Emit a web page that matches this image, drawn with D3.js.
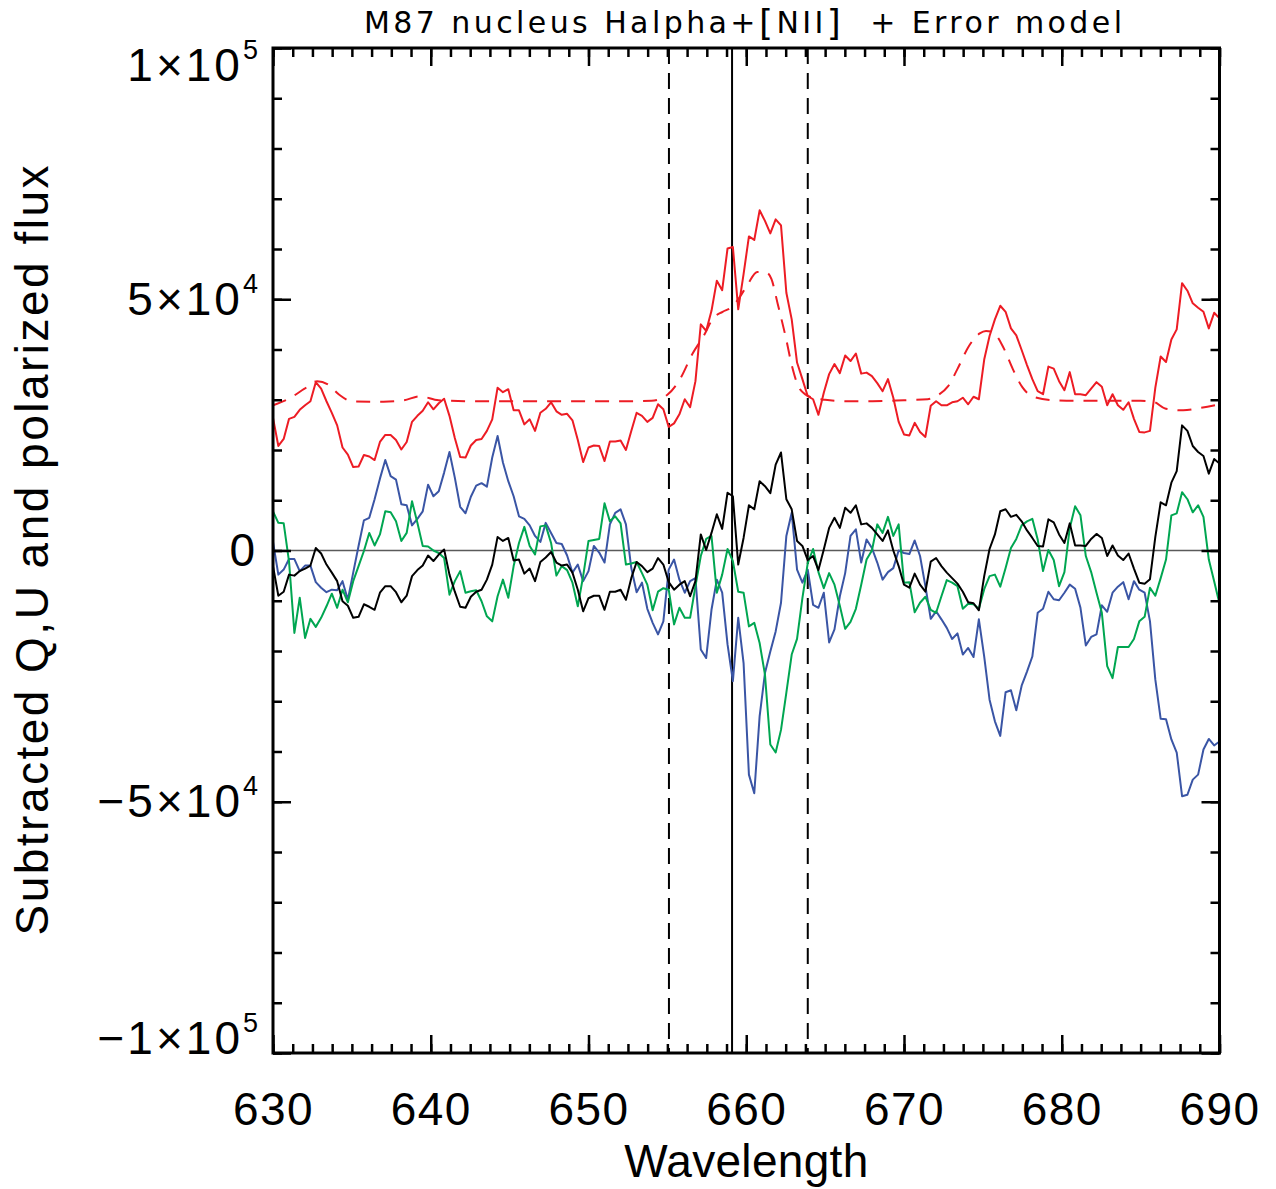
<!DOCTYPE html>
<html>
<head>
<meta charset="utf-8">
<script src="https://cdn.jsdelivr.net/npm/d3@7"></script>
<style>
  body { margin: 0; background: #fff; }
  svg { display: block; font-family: "Liberation Sans", Arial, sans-serif; }
</style>
</head>
<body>
<div id="chart"></div>
<script>
// spectrum sampled on a regular grid, 630 -> 690 nm
const nSamples = 178;
const wavelength = d3.range(nSamples).map(i => 630 + i * 60 / (nSamples - 1));

// values in units of 1e4
const polFlux = [2.64, 2.08, 2.22, 2.62, 2.66, 2.80, 2.89, 2.97, 3.35, 3.22,
  2.97, 2.74, 2.49, 2.05, 1.91, 1.66, 1.67, 1.90, 1.87, 1.80,
  2.16, 2.30, 2.30, 2.20, 2.01, 2.16, 2.56, 2.68, 2.78, 2.95,
  2.81, 2.93, 3.02, 2.68, 2.24, 1.86, 1.85, 2.09, 2.20, 2.22,
  2.38, 2.61, 3.24, 3.15, 3.21, 2.79, 2.79, 2.51, 2.61, 2.38,
  2.74, 2.82, 2.95, 2.77, 2.70, 2.72, 2.59, 2.20,
  1.76, 2.05, 2.09, 2.08, 1.78, 2.17, 2.17, 2.19, 2.00, 2.38,
  2.74, 2.68, 2.56, 2.64, 2.91, 2.81, 2.46, 2.53, 2.71, 3.01,
  2.85, 3.37, 4.50, 4.37, 4.77, 5.37, 5.18, 6.01, 6.04, 4.80,
  5.50, 6.25, 6.18, 6.77, 6.56, 6.31, 6.59, 6.47, 5.13, 4.60,
  3.74, 3.41, 3.07, 3.01, 2.70, 3.14, 3.51, 3.71, 3.53, 3.88,
  3.77, 3.92, 3.52, 3.54, 3.47, 3.33, 3.17, 3.41, 3.04, 2.56,
  2.31, 2.29,
  2.54, 2.36, 2.26, 2.88, 2.97, 2.89, 2.89, 2.95, 2.97, 3.04,
  2.91, 3.06, 3.01, 3.80, 4.27, 4.60, 4.87, 4.75, 4.42, 4.28,
  3.99, 3.69, 3.41, 3.17, 3.11, 3.66, 3.62, 3.37, 3.19, 3.55,
  3.11, 3.11, 3.09, 3.22, 3.35, 3.26, 2.89, 3.11, 2.89, 2.80,
  2.95, 2.62, 2.36, 2.35, 2.38, 3.24, 3.86, 3.75, 4.20, 4.40,
  5.32, 5.17, 4.92, 4.83, 4.75, 4.42, 4.73, 4.62];

const stokesQ = [0.17, -0.48, -0.38, -0.17, -0.17, -0.41, -0.30, -0.30, -0.63, -0.74,
  -0.83, -0.78, -0.79, -0.61, -0.98, -0.44, 0.09, 0.60, 0.65, 1.02,
  1.43, 1.80, 1.48, 1.41, 0.92, 0.90, 0.50, 0.63, 0.78, 1.31,
  1.08, 1.18, 1.55, 1.96, 1.45, 0.87, 0.74, 1.07, 1.29, 1.34,
  1.27, 1.85, 2.28, 1.75, 1.38, 1.08, 0.68, 0.63, 0.50, 0.29,
  0.17, 0.55, 0.35, 0.15, 0.13, -0.10, -0.44, -0.28,
  -0.61, -0.41, 0.09, -0.04, -0.24, 0.52, 0.75, 0.82, 0.52, -0.35,
  -0.83, -0.64, -1.16, -1.44, -1.67, -1.41, -0.38, -0.18, -0.58, -0.84,
  -0.61, -0.55, -1.97, -2.14, -1.18, -0.58, -0.84, -1.87, -2.60, -1.34,
  -2.24, -4.46, -4.83, -3.30, -2.44, -2.01, -1.61, -1.04, 0.29, 0.75,
  -0.38, -0.64, -0.38, -1.08, -1.14, -0.84, -1.83, -1.57, -0.91, -0.45,
  0.29, 0.42, -0.24, 0.22, 0.05, -0.24, -0.58, -0.43, -0.35, 0.00,
  -0.05, -0.07,
  0.20, -0.11, -0.71, -1.36, -1.21, -1.37, -1.54, -1.76, -1.65, -2.07,
  -1.94, -2.12, -1.37, -2.11, -2.97, -3.40, -3.69, -2.82, -2.78, -3.18,
  -2.69, -2.41, -2.11, -1.24, -1.16, -0.82, -0.97, -0.99, -0.84, -0.68,
  -0.76, -1.14, -1.89, -1.72, -1.67, -1.09, -1.22, -0.84, -0.72, -0.63,
  -0.97, -0.61, -0.78, -0.84, -1.41, -2.57, -3.35, -3.36, -3.76, -4.02,
  -4.89, -4.86, -4.56, -4.46, -3.96, -3.75, -3.88, -3.80];

const stokesU = [0.78, 0.55, 0.54, -0.22, -1.64, -0.94, -1.74, -1.36, -1.52, -1.34,
  -1.11, -0.86, -1.14, -0.78, -1.03, -0.61, -0.31, -0.01, 0.35, 0.10,
  0.32, 0.78, 0.76, 0.58, 0.19, 0.35, 0.98, 0.55, 0.09, 0.08,
  0.00, -0.05, -0.15, -0.88, -0.61, -0.41, -0.84, -0.81, -0.79, -1.01,
  -1.31, -1.41, -0.91, -0.58, -0.94, -0.31, 0.15, 0.47, 0.09, -0.08,
  0.48, 0.50, 0.15, -0.50, -0.31, -0.39, -0.64, -1.11,
  -0.51, 0.19, 0.21, 0.23, 0.94, 0.58, 0.68, 0.54, -0.28, -0.26,
  -0.23, -0.45, -0.68, -1.19, -0.82, -0.75, -0.78, -1.47, -1.14, -1.34,
  -1.34, -0.71, -0.11, 0.23, 0.29, -0.84, -0.48, 0.03, -0.21, -0.82,
  -0.84, -1.51, -1.44, -1.84, -2.47, -3.86, -4.02, -3.57, -2.83, -2.07,
  -1.76, -0.95, -0.25, 0.03, -0.43, -0.75, -0.45, -0.68, -1.10, -1.56,
  -1.42, -1.16, -0.68, -0.18, 0.00, 0.52, 0.35, 0.67, 0.29, 0.52,
  -0.64, -0.63,
  -1.23, -1.04, -0.92, -1.18, -1.24, -0.91, -0.59, -0.64, -0.71, -1.16,
  -1.06, -1.07, -1.16, -0.77, -0.51, -0.48, -0.72, -0.35, 0.05, 0.23,
  0.50, 0.58, 0.63, 0.22, -0.41, 0.01, -0.19, -0.71, -0.43, 0.45,
  0.88, 0.70, -0.11, -0.43, -0.84, -1.24, -2.30, -2.54, -1.92, -1.92,
  -1.92, -1.76, -1.41, -1.32, -0.74, -0.90, -0.55, -0.18, 0.70, 0.74,
  1.16, 1.02, 0.76, 0.90, 0.67, -0.18, -0.61, -1.06];

const polResidual = [-0.31, -0.90, -0.82, -0.48, -0.50, -0.41, -0.36, -0.30, 0.05, -0.06,
  -0.28, -0.44, -0.61, -1.01, -1.10, -1.34, -1.32, -1.07, -1.12, -1.18,
  -0.84, -0.71, -0.71, -0.83, -1.03, -0.90, -0.51, -0.39, -0.30, -0.10,
  -0.21, -0.08, 0.02, -0.48, -0.82, -1.12, -1.14, -0.92, -0.82, -0.78,
  -0.58, -0.28, 0.27, 0.19, 0.25, -0.20, -0.18, -0.46, -0.36, -0.61,
  -0.23, -0.14, -0.03, -0.24, -0.30, -0.28, -0.44, -0.78,
  -1.21, -0.95, -0.90, -0.90, -1.18, -0.82, -0.82, -0.78, -0.98, -0.55,
  -0.23, -0.31, -0.43, -0.36, -0.15, -0.28, -0.63, -0.78, -0.68, -0.61,
  -0.91, -0.61, 0.32, 0.01, 0.35, 0.72, 0.43, 1.15, 1.08, -0.28,
  0.25, 0.90, 0.82, 1.38, 1.28, 1.14, 1.71, 1.95, 1.02, 0.82,
  0.19, 0.09, -0.19, -0.11, -0.39, 0.02, 0.45, 0.65, 0.45, 0.85,
  0.75, 0.90, 0.52, 0.54, 0.45, 0.32, 0.19, 0.40, 0.00, -0.31,
  -0.68, -0.74,
  -0.46, -0.68, -0.82, -0.22, -0.15, -0.31, -0.44, -0.55, -0.66, -0.82,
  -1.03, -1.05, -1.19, -0.51, 0.03, 0.32, 0.78, 0.82, 0.67, 0.71,
  0.58, 0.40, 0.25, 0.09, 0.08, 0.62, 0.56, 0.32, 0.15, 0.54,
  0.10, 0.10, 0.09, 0.23, 0.33, 0.25, -0.11, 0.10, -0.10, -0.19,
  -0.06, -0.36, -0.64, -0.66, -0.57, 0.27, 0.96, 0.90, 1.35, 1.58,
  2.49, 2.38, 2.08, 1.96, 1.88, 1.53, 1.82, 1.73];

// error model (dashed red)
const modelWavelength = [630, 631, 632, 632.8, 633.5, 634.2, 635, 637, 638.3, 639.3,
  640.5, 643, 646, 649, 652, 654, 655, 655.8, 656.6, 657.3,
  657.9, 658.5, 659.1, 659.6, 660.1, 660.7, 661.3, 661.6, 662, 662.5,
  662.9, 663.4, 664.2, 665, 666.4, 668, 670, 671.5, 672.2, 672.8,
  673.4, 674.1, 674.8, 675.2, 675.6, 676.3, 676.9, 677.5, 678.2, 679.5,
  681, 683, 685, 685.8, 686.6, 687.7, 688.8, 690];
const modelFlux = [2.89, 3.02, 3.22, 3.37, 3.30, 3.10, 2.97, 2.96, 2.99, 3.07,
  2.99, 2.97, 2.97, 2.97, 2.97, 2.98, 3.10, 3.41, 3.92, 4.27,
  4.62, 4.75, 4.85, 5.05, 5.30, 5.54, 5.53, 5.40, 4.90, 4.25,
  3.67, 3.21, 3.04, 3.00, 2.97, 2.97, 2.99, 3.01, 3.10, 3.27,
  3.62, 4.06, 4.32, 4.37, 4.35, 4.04, 3.61, 3.25, 3.06, 2.99,
  2.98, 2.98, 2.98, 2.96, 2.82, 2.79, 2.84, 2.91];
const fluxUnit = 1e4;

// marker lines (nm)
const lineCentre = 659.1;
const windowEdges = [655.1, 663.9];

const xMajor = [630, 640, 650, 660, 670, 680, 690];
const yMajor = [-1e5, -5e4, 0, 5e4, 1e5];

const W = 1276, H = 1189;
const plot = { left: 273, right: 1219.5, top: 48, bottom: 1053 };

const svg = d3.select("#chart").append("svg").attr("width", W).attr("height", H);

const x = d3.scaleLinear().domain([630, 690]).range([plot.left, plot.right]);
const y = d3.scaleLinear().domain([-1e5, 1e5]).range([plot.bottom, plot.top]);

svg.append("defs").append("clipPath").attr("id", "plotClip")
  .append("rect").attr("x", plot.left).attr("y", plot.top)
  .attr("width", plot.right - plot.left).attr("height", plot.bottom - plot.top);

const body = svg.append("g").attr("clip-path", "url(#plotClip)");

// zero line
body.append("line")
  .attr("x1", plot.left).attr("x2", plot.right)
  .attr("y1", y(0)).attr("y2", y(0))
  .attr("stroke", "#5a5a5a").attr("stroke-width", 1.3);

// vertical markers
windowEdges.forEach(w => {
  body.append("line")
    .attr("x1", x(w)).attr("x2", x(w)).attr("y1", plot.top).attr("y2", plot.bottom)
    .attr("stroke", "#000").attr("stroke-width", 2).attr("stroke-dasharray", "16,9");
});
body.append("line")
  .attr("x1", x(lineCentre)).attr("x2", x(lineCentre)).attr("y1", plot.top).attr("y2", plot.bottom)
  .attr("stroke", "#000").attr("stroke-width", 2);

const spec = d3.line()
  .x((d, i) => x(wavelength[i]))
  .y(d => y(d * fluxUnit));

const series = [
  { values: stokesQ, color: "#3a55a5" },
  { values: stokesU, color: "#00a651" },
  { values: polResidual, color: "#000000" },
  { values: polFlux, color: "#ed1c24" }
];
series.forEach(s => {
  body.append("path").datum(s.values)
    .attr("d", spec)
    .attr("fill", "none")
    .attr("stroke", s.color)
    .attr("stroke-width", 2)
    .attr("stroke-linejoin", "round");
});

const modelLine = d3.line()
  .x(d => x(d[0]))
  .y(d => y(d[1] * fluxUnit))
  .curve(d3.curveMonotoneX);
body.append("path")
  .datum(modelWavelength.map((w, i) => [w, modelFlux[i]]))
  .attr("d", modelLine)
  .attr("fill", "none")
  .attr("stroke", "#ed1c24")
  .attr("stroke-width", 2)
  .attr("stroke-dasharray", "14,10");

// axes, IDL style: ticks inward on all four sides
function styleAxis(g) {
  g.select(".domain").remove();
  g.selectAll(".tick line").attr("stroke", "#000").attr("stroke-width", 2.5);
}
const xMinorVals = d3.range(630, 690.001, 1.25);
const yMinorVals = d3.range(-1e5, 1e5 + 1, 1e4);

svg.append("g").attr("transform", `translate(0,${plot.bottom})`)
  .call(d3.axisBottom(x).tickValues(xMinorVals).tickSize(-9).tickFormat(""))
  .call(styleAxis);
svg.append("g").attr("transform", `translate(0,${plot.top})`)
  .call(d3.axisTop(x).tickValues(xMinorVals).tickSize(-9).tickFormat(""))
  .call(styleAxis);
svg.append("g").attr("transform", `translate(0,${plot.top})`)
  .call(d3.axisTop(x).tickValues(xMajor).tickSize(-18).tickFormat(""))
  .call(styleAxis);
svg.append("g").attr("transform", `translate(${plot.left},0)`)
  .call(d3.axisLeft(y).tickValues(yMinorVals).tickSize(-9).tickFormat(""))
  .call(styleAxis);
svg.append("g").attr("transform", `translate(${plot.right},0)`)
  .call(d3.axisRight(y).tickValues(yMinorVals).tickSize(-9).tickFormat(""))
  .call(styleAxis);
svg.append("g").attr("transform", `translate(${plot.right},0)`)
  .call(d3.axisRight(y).tickValues(yMajor).tickSize(-18).tickFormat(""))
  .call(styleAxis);

const xAxis = svg.append("g").attr("transform", `translate(0,${plot.bottom})`)
  .call(d3.axisBottom(x).tickValues(xMajor).tickSize(-18).tickFormat(d3.format("d")))
  .call(styleAxis);
xAxis.selectAll("text")
  .attr("y", 72).attr("dy", null)
  .attr("font-size", 46).attr("fill", "#000")
  .attr("font-family", "'Liberation Sans', Arial, sans-serif")
  .attr("letter-spacing", 1.5);

const yAxis = svg.append("g").attr("transform", `translate(${plot.left},0)`)
  .call(d3.axisLeft(y).tickValues(yMajor).tickSize(-18).tickPadding(15).tickFormat(""))
  .call(styleAxis);
yAxis.selectAll(".tick text").each(function(d) {
  const t = d3.select(this)
    .attr("font-size", 46).attr("fill", "#000")
    .attr("font-family", "'Liberation Sans', Arial, sans-serif")
    .attr("letter-spacing", 3)
    .attr("dy", d === 1e5 ? "32px" : d === -1e5 ? "0px" : "15px");
  if (d === 0) { t.text("0"); return; }
  const exp = Math.floor(Math.log10(Math.abs(d)));
  const mant = Math.abs(d) / Math.pow(10, exp);
  t.text((d < 0 ? "\u2212" : "") + mant + "\u00d710");
  t.append("tspan").attr("font-size", 27).attr("dy", "-22px").attr("letter-spacing", 0).text(exp);
});

// frame
svg.append("rect")
  .attr("x", plot.left).attr("y", plot.top)
  .attr("width", plot.right - plot.left).attr("height", plot.bottom - plot.top)
  .attr("fill", "none").attr("stroke", "#000").attr("stroke-width", 3);

// titles
svg.append("text")
  .attr("x", (plot.left + plot.right) / 2).attr("y", 1177)
  .attr("text-anchor", "middle").attr("font-size", 46)
  .attr("textLength", 244).attr("lengthAdjust", "spacing")
  .text("Wavelength");

svg.append("text")
  .attr("transform", `translate(48,${(plot.top + plot.bottom) / 2}) rotate(-90)`)
  .attr("text-anchor", "middle").attr("font-size", 46)
  .attr("textLength", 770).attr("lengthAdjust", "spacing")
  .text("Subtracted Q,U and polarized flux");

const title = svg.append("text")
  .attr("x", 364).attr("y", 33)
  .attr("font-family", "'DejaVu Sans', sans-serif")
  .attr("font-size", 30)
  .attr("textLength", 758).attr("lengthAdjust", "spacing")
  .style("white-space", "pre");
title.append("tspan").text("M87 nucleus Halpha+");
title.append("tspan").attr("font-size", 36).attr("dy", 2).text("[");
title.append("tspan").attr("dy", -2).text("NII");
title.append("tspan").attr("font-size", 36).attr("dy", 2).text("]");
title.append("tspan").attr("dy", -2).text("  + Error model");
</script>
</body>
</html>
